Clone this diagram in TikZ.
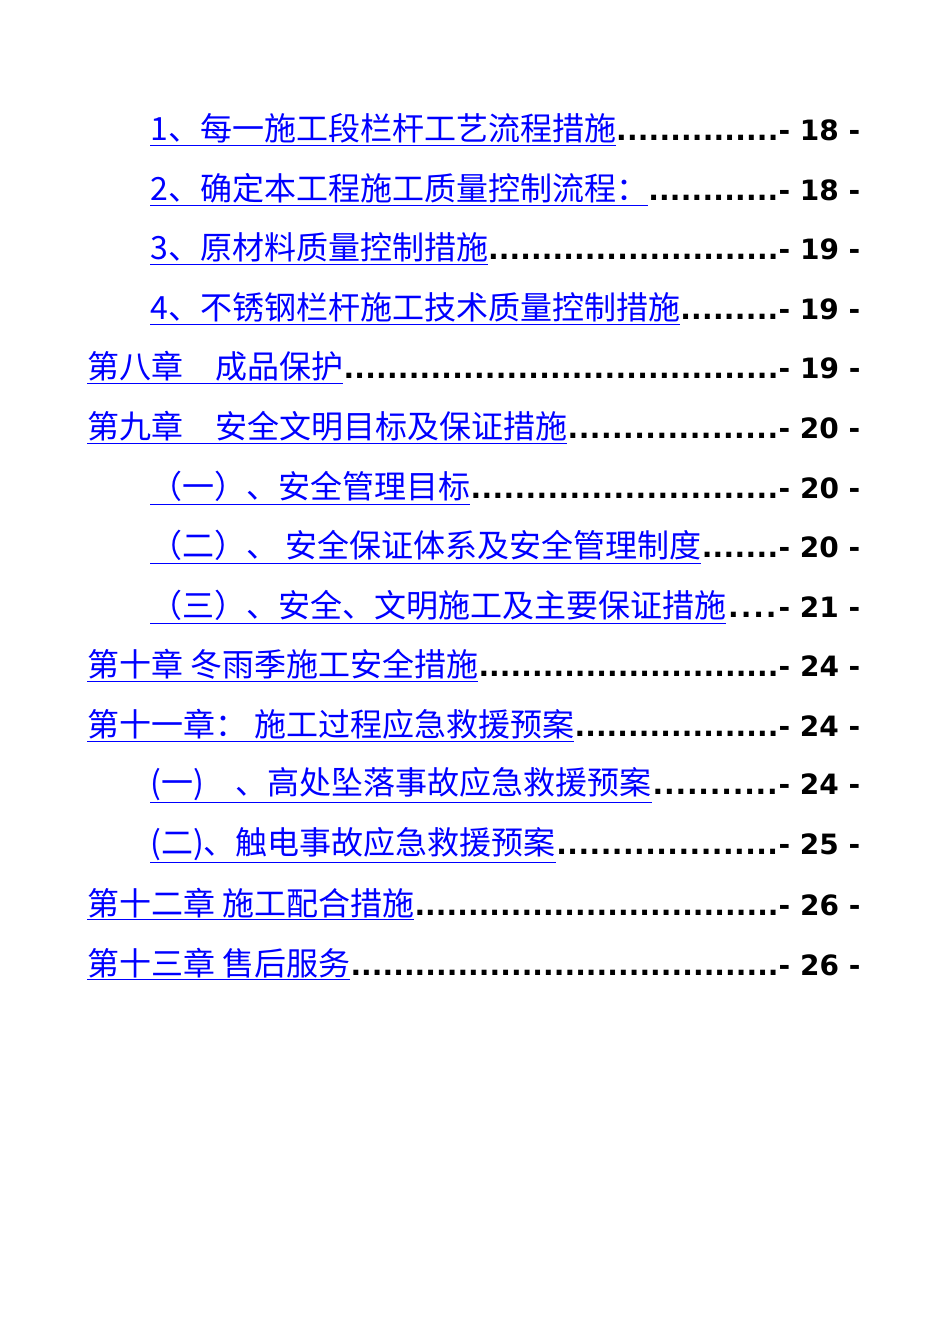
\documentclass[tikz,border=0pt]{standalone}
\usepackage{fontspec}
\newfontfamily\cjk{Noto Sans CJK SC}
\newfontfamily\numf{DejaVu Sans}
\definecolor{linkblue}{RGB}{0,0,255}
\newcommand{\tocline}[3]{\makebox[#1]{\textcolor{linkblue}{\cjk\fontsize{24pt}{28pt}\selectfont\underline{#2}}\numf\bfseries\fontsize{21pt}{26pt}\selectfont\xleaders\hbox{.}\hfill- #3 -}}
\tikzset{tocitem/.style={anchor=west,inner sep=0pt}}
\begin{document}
\begin{tikzpicture}[x=0.75pt,y=-0.75pt]
\useasboundingbox (0,0) rectangle (950,1344);
\node[tocitem] (r1) at (150,130) {\tocline{532.5pt}{1、每一施工段栏杆工艺流程措施}{18}};
\node[tocitem] (r2) at (150,190) {\tocline{532.5pt}{2、确定本工程施工质量控制流程：}{18}};
\node[tocitem] (r3) at (150,249) {\tocline{532.5pt}{3、原材料质量控制措施}{19}};
\node[tocitem] (r4) at (150,309) {\tocline{532.5pt}{4、不锈钢栏杆施工技术质量控制措施}{19}};
\node[tocitem] (r5) at (87,368) {\tocline{579.75pt}{第八章　成品保护}{19}};
\node[tocitem] (r6) at (87,428) {\tocline{579.75pt}{第九章　安全文明目标及保证措施}{20}};
\node[tocitem] (r7) at (150,488) {\tocline{532.5pt}{（一）、安全管理目标}{20}};
\node[tocitem] (r8) at (150,547) {\tocline{532.5pt}{（二）、 安全保证体系及安全管理制度}{20}};
\node[tocitem] (r9) at (150,607) {\tocline{532.5pt}{（三）、安全、文明施工及主要保证措施}{21}};
\node[tocitem] (r10) at (87,666) {\tocline{579.75pt}{第十章 冬雨季施工安全措施}{24}};
\node[tocitem] (r11) at (87,726) {\tocline{579.75pt}{第十一章： 施工过程应急救援预案}{24}};
\node[tocitem] (r12) at (150,785) {\tocline{532.5pt}{(一)　、高处坠落事故应急救援预案}{24}};
\node[tocitem] (r13) at (150,845) {\tocline{532.5pt}{(二)、触电事故应急救援预案}{25}};
\node[tocitem] (r14) at (87,904) {\tocline{579.75pt}{第十二章 施工配合措施}{26}};
\node[tocitem] (r15) at (87,964) {\tocline{579.75pt}{第十三章 售后服务}{26}};
\end{tikzpicture}
\end{document}
